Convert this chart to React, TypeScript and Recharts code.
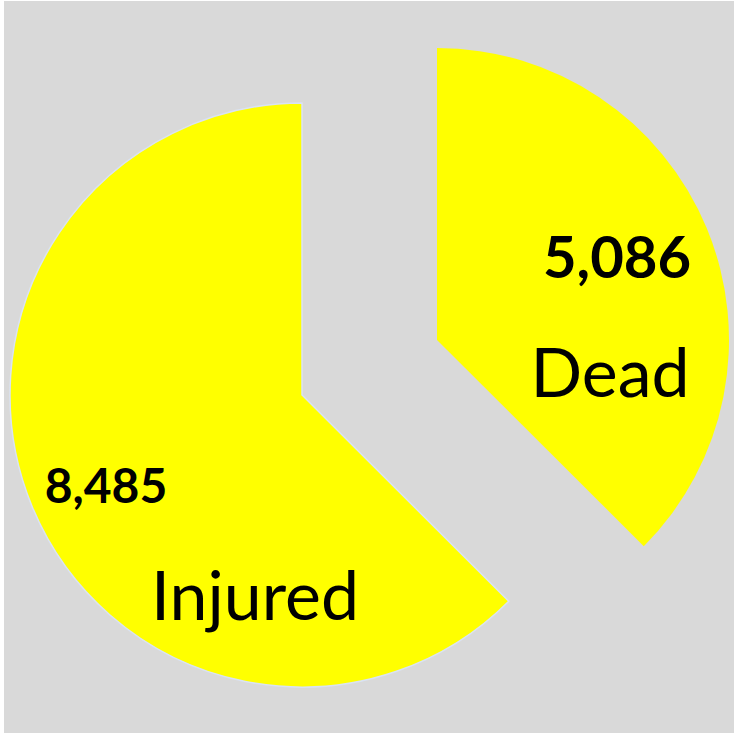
import { PieChart, Pie, Cell } from "recharts";

// casualty counts
const categories = ["Dead", "Injured"];
const values = [5086, 8485];
const labelsShown = ["5,086", "8,485"];

const data = categories.map((name, i) => ({ name, value: values[i] }));

// each slice is drawn by its own Pie so it can be pulled out from the centre
const slices = [
  { index: 0, cx: 437, cy: 340, stroke: "none" },
  { index: 1, cx: 302, cy: 395, stroke: "#dae3f3" },
];

// label offsets from the slice's own centre
const labelOffsets = [
  { value: [180, -62], name: [173, 57], valueSize: 58 },
  { value: [-196, 108], name: [-47, 225], valueSize: 48 },
];

const FONT = "Lato, 'Open Sans', sans-serif";

const makeLabel = (show: number) => (props: any) => {
  const { cx, cy, index } = props;
  if (index !== show) return null;
  const off = labelOffsets[index];
  return (
    <g>
      <text
        x={cx + off.value[0]}
        y={cy + off.value[1]}
        textAnchor="middle"
        fill="#000"
        fontFamily={FONT}
        fontWeight="bold"
        fontSize={off.valueSize}
      >
        {labelsShown[index]}
      </text>
      <text
        x={cx + off.name[0]}
        y={cy + off.name[1]}
        textAnchor="middle"
        fill="#000"
        fontFamily={FONT}
        fontSize={68}
      >
        {categories[index]}
      </text>
    </g>
  );
};

export default function App() {
  return (
    <div
      style={{
        position: "absolute",
        left: 0,
        top: 0,
        width: 735,
        height: 733,
        background: "#fff",
      }}
    >
      <div
        style={{
          position: "absolute",
          left: 4,
          top: 1,
          width: 730,
          height: 732,
          background: "#d9d9d9",
        }}
      />
      <div style={{ position: "absolute", left: 0, top: 0 }}>
        <PieChart width={735} height={733} margin={{ top: 0, right: 0, bottom: 0, left: 0 }}>
          {slices.map((s) => (
            <Pie
              key={s.index}
              data={data}
              dataKey="value"
              nameKey="name"
              cx={s.cx}
              cy={s.cy}
              outerRadius={292}
              startAngle={90}
              endAngle={-270}
              labelLine={false}
              label={makeLabel(s.index)}
              isAnimationActive={false}
            >
              {data.map((d, i) => (
                <Cell
                  key={d.name}
                  fill={i === s.index ? "#ffff00" : "none"}
                  stroke={i === s.index ? s.stroke : "none"}
                  strokeWidth={1.5}
                />
              ))}
            </Pie>
          ))}
        </PieChart>
      </div>
    </div>
  );
}
